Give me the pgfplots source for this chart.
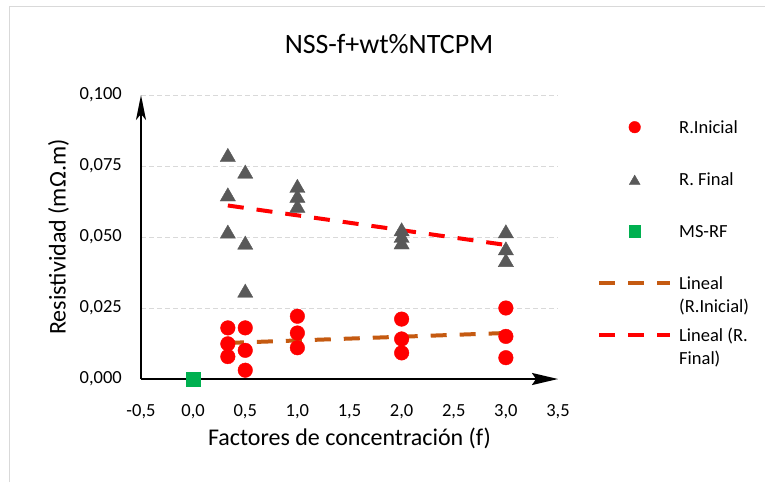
\documentclass[border=0pt]{standalone}
\usepackage{fontspec}
\setmainfont{Carlito}
\usepackage{pgfplots}
\pgfplotsset{compat=1.18}
\usetikzlibrary{arrows.meta}
\definecolor{rred}{HTML}{FF0000}
\definecolor{rgray}{HTML}{595959}
\definecolor{rgreen}{HTML}{00B050}
\definecolor{rorange}{HTML}{C55A11}
\definecolor{rgrid}{HTML}{D9D9D9}
\definecolor{rborder}{HTML}{D9D9D9}
\pgfplotsset{
  markleg/.style={legend image code/.code={\path[draw=none,fill=none] (0pt,0pt) -- (71pt,0pt); \draw[##1, mark size=#1] plot coordinates {(35.5pt,6pt)};}},
  lineleg/.style={legend image code/.code={\draw[##1] (0pt,6pt) -- (71pt,6pt);}},
}
\begin{document}
\begin{tikzpicture}
\useasboundingbox (0pt,0pt) rectangle (765pt,-482pt);
\draw[rborder, line width=1pt] (9pt,-482pt) -- (9pt,-6pt) -- (765pt,-6pt);
\node[font=\fontsize{28}{32}\selectfont, anchor=center, inner sep=0pt] at (389pt,-44pt) {NSS-f+wt\%NTCPM};
\begin{axis}[
  at={(141pt,-379pt)}, anchor=south west,
  scale only axis, width=417pt, height=284pt,
  xmin=-0.5, xmax=3.5, ymin=0, ymax=0.1,
  clip=false,
  axis x line=bottom, axis y line=left,
  x axis line style={line width=2pt, -{Stealth[length=26pt,width=12pt,inset=4pt]}},
  y axis line style={line width=2pt, -{Stealth[length=25pt,width=10pt,inset=6pt]}},
  xtick={-0.5,0,0.5,1,1.5,2,2.5,3,3.5},
  ytick={0,0.025,0.05,0.075,0.1},
  scaled y ticks=false, scaled x ticks=false,
  major tick length=0pt,
  ymajorgrids,
  major grid style={rgrid, line width=1pt, dash pattern=on 5pt off 3pt},
  tick label style={font=\fontsize{18.5}{22}\selectfont},
  x tick label style={/pgf/number format/.cd, fixed, fixed zerofill, precision=1, use comma, assume math mode=true, /tikz/.cd, anchor=base, inner sep=0pt, yshift=-37.8pt},
  y tick label style={/pgf/number format/.cd, fixed, fixed zerofill, precision=3, use comma, assume math mode=true, /tikz/.cd, anchor=east, inner sep=0pt, xshift=-19pt},
  xlabel={Factores de concentración (f)},
  ylabel={Resistividad (mΩ.m)},
  every axis x label/.style={at={(axis description cs:0.5,-0.2077)}, anchor=center, font=\fontsize{24}{28}\selectfont},
  every axis y label/.style={at={(axis description cs:-0.1978,0.5)}, anchor=center, rotate=90, font=\fontsize{24}{28}\selectfont},
  legend style={at={(1.0935,0.912)}, anchor=north west, draw=none, fill=none, inner sep=0pt,
    font=\fontsize{18.5}{23}\selectfont, row sep=35pt, column sep=7pt,
    cells={anchor=base west},
    nodes={inner sep=0pt, anchor=base west, text height=13pt, text depth=4pt}},
]
\addplot[only marks, color=rred, mark=*, mark size=7.3pt, mark options={solid, fill=rred, draw=rred}, markleg=5.8pt]
  coordinates {(0.333,0.0180) (0.333,0.0124) (0.333,0.0079)
               (0.5,0.0180) (0.5,0.0101) (0.5,0.0031)
               (1,0.0221) (1,0.0162) (1,0.0110)
               (2,0.0211) (2,0.0141) (2,0.0092)
               (3,0.0250) (3,0.0150) (3,0.0075)};
\addlegendentry{R.Inicial}
\addplot[only marks, color=rgray, mark=triangle*, mark size=8.8pt, mark options={solid, fill=rgray, draw=rgray, yshift=-2.2pt}, markleg=6.3pt]
  coordinates {(0.333,0.0789) (0.333,0.0650) (0.333,0.0519)
               (0.5,0.0730) (0.5,0.0480) (0.5,0.0311)
               (1,0.0680) (1,0.0645) (1,0.0610)
               (2,0.0527) (2,0.0504) (2,0.0481)
               (3,0.0520) (3,0.0460) (3,0.0419)};
\addlegendentry{R. Final}
\addplot[only marks, color=rgreen, mark=square*, mark size=7.3pt, mark options={solid, fill=rgreen, draw=rgreen}, markleg=5.8pt]
  coordinates {(0,0)};
\addlegendentry{MS-RF}
\addplot[rorange, line width=4pt, dash pattern=on 16pt off 13pt, lineleg]
  coordinates {(0.333,0.0127) (3,0.0162)};
\addlegendentry{\begin{tabular}[t]{@{}l@{}}Lineal\\(R.Inicial)\end{tabular}}
\addplot[rred, line width=4pt, dash pattern=on 16pt off 13pt, lineleg]
  coordinates {(0.333,0.0611) (3,0.0472)};
\addlegendentry{\begin{tabular}[t]{@{}l@{}}Lineal (R.\\Final)\end{tabular}}
\end{axis}
\end{tikzpicture}
\end{document}
